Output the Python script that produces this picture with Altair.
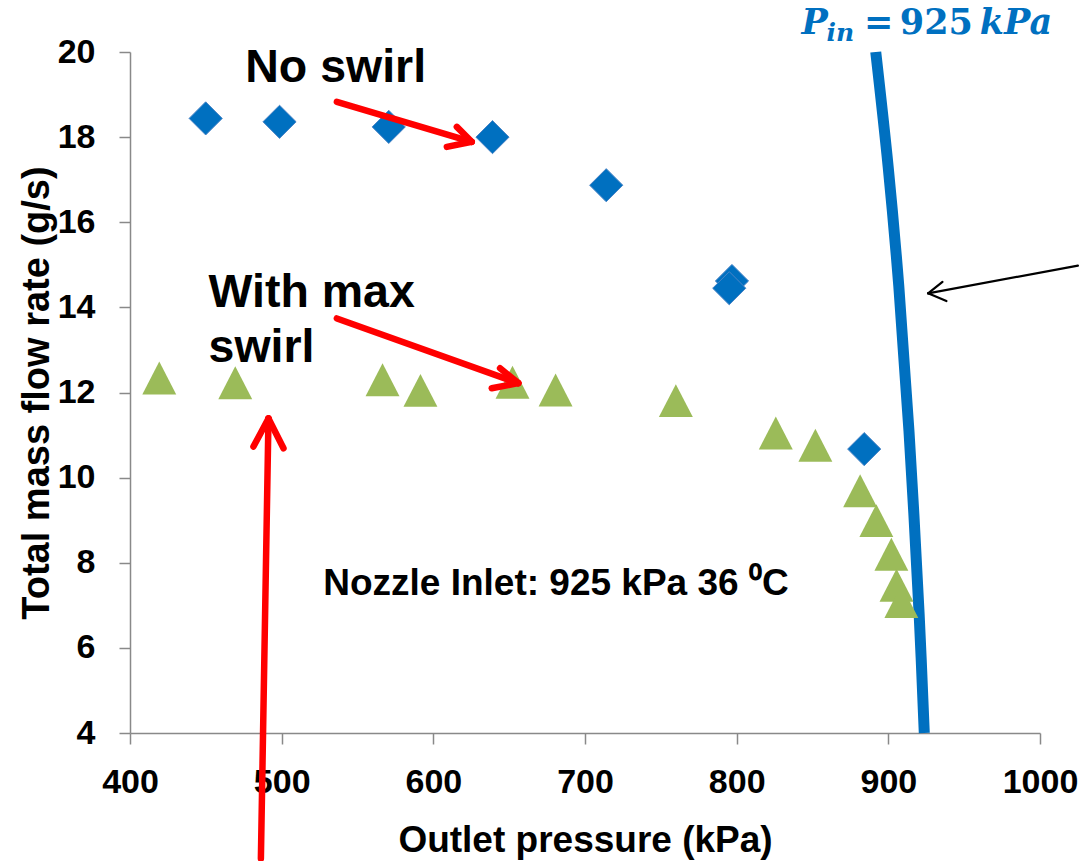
import altair as alt
import pandas as pd

# ---- data ----
no_swirl_p = [449.9, 498.6, 570.6, 639.0, 714.0, 796.9, 795.1, 884.1]
no_swirl_m = [18.44, 18.36, 18.24, 18.00, 16.87, 14.62, 14.45, 10.67]

max_swirl_p = [419.3, 469.4, 566.5, 591.5, 652.2, 680.6, 759.9, 825.8,
               851.9, 881.4, 892.1, 902.0, 905.4, 908.6]
max_swirl_m = [12.34, 12.23, 12.30, 12.05, 12.24, 12.06, 11.81, 11.05,
               10.76, 9.69, 8.99, 8.20, 7.47, 7.09]

pin_curve_p = [891.7, 899.9, 906.9, 913.6, 920.3, 923.7]
pin_curve_m = [20.0, 17.3, 14.5, 11.1, 6.8, 4.0]

x_ticks = [400, 500, 600, 700, 800, 900, 1000]
y_ticks = [4, 6, 8, 10, 12, 14, 16, 18, 20]

# arrow segments (data units): x, y -> x2, y2
red_seg_x = [536.4, 615.5, 608.9, 536.4, 644.0, 638.5, 486.3, 481.4, 501.2]
red_seg_y = [18.83, 18.24, 17.77, 13.74, 12.57, 12.10, 1.05, 10.73, 10.69]
red_seg_x2 = [625.3, 625.3, 625.3, 656.0, 656.0, 656.0, 491.3, 491.3, 491.3]
red_seg_y2 = [17.89, 17.89, 17.89, 12.22, 12.22, 12.22, 11.39, 11.39, 11.39]

blk_seg_x = [1025.0, 935.7, 938.3]
blk_seg_y = [14.98, 14.60, 14.15]
blk_seg_x2 = [926.2, 926.2, 926.2]
blk_seg_y2 = [14.33, 14.33, 14.33]

FONT = "Liberation Sans"
AXC = "#898989"
BLUE = "#0070C0"
GREEN = "#9BBB59"

xs = alt.Scale(domain=[400, 1000], nice=False, zero=False)
ys = alt.Scale(domain=[4, 20], nice=False, zero=False)

x_axis = alt.Axis(values=x_ticks, format="d", title="Outlet pressure (kPa)", grid=False,
                  domainColor=AXC, domainWidth=1.5, tickColor=AXC, tickWidth=1.5,
                  tickSize=11, labelFont=FONT, labelFontSize=34, labelFontWeight="bold",
                  labelColor="black", labelPadding=21, labelFlush=False, labelOverlap=False,
                  titleFont=FONT, titleFontSize=37, titleFontWeight="bold",
                  titleColor="black", titlePadding=23)
y_axis = alt.Axis(values=y_ticks, format="d", title="Total mass flow rate (g/s)", grid=False,
                  domainColor=AXC, domainWidth=1.5, tickColor=AXC, tickWidth=1.5,
                  tickSize=11, labelFont=FONT, labelFontSize=34, labelFontWeight="bold",
                  labelColor="black", labelPadding=24, labelOverlap=False,
                  titleFont=FONT, titleFontSize=38, titleFontWeight="bold",
                  titleColor="black", titlePadding=1)

curve_df = pd.DataFrame({"p": pin_curve_p, "m": pin_curve_m})
curve = alt.Chart(curve_df).mark_line(
    color=BLUE, strokeWidth=11, interpolate="catmull-rom", strokeCap="butt"
).encode(x=alt.X("p:Q", scale=xs, axis=x_axis), y=alt.Y("m:Q", scale=ys, axis=y_axis),
         order=alt.Order("m:Q", sort="descending"))

ns_df = pd.DataFrame({"p": no_swirl_p, "m": no_swirl_m})
diamonds = alt.Chart(ns_df).mark_point(
    shape="diamond", filled=True, size=1100, fill=BLUE, stroke="#4A84C6",
    strokeWidth=1, opacity=1
).encode(x=alt.X("p:Q", scale=xs), y=alt.Y("m:Q", scale=ys))

ms_df = pd.DataFrame({"p": max_swirl_p, "m": max_swirl_m})
triangles = alt.Chart(ms_df).mark_point(
    shape="M0,-0.97L1,0.97L-1,0.97Z", filled=True, size=1150, fill=GREEN,
    strokeWidth=0, opacity=1
).encode(x=alt.X("p:Q", scale=xs), y=alt.Y("m:Q", scale=ys))

red_df = pd.DataFrame({"x": red_seg_x, "y": red_seg_y, "x2": red_seg_x2, "y2": red_seg_y2})
red_arrows = alt.Chart(red_df).mark_rule(color="#FF0000", strokeWidth=6.5, strokeCap="round").encode(
    x=alt.X("x:Q", scale=xs), y=alt.Y("y:Q", scale=ys), x2="x2:Q", y2="y2:Q")

blk_df = pd.DataFrame({"x": blk_seg_x, "y": blk_seg_y, "x2": blk_seg_x2, "y2": blk_seg_y2})
blk_arrow = alt.Chart(blk_df).mark_rule(color="black", strokeWidth=2.2, strokeCap="round").encode(
    x=alt.X("x:Q", scale=xs), y=alt.Y("y:Q", scale=ys), x2="x2:Q", y2="y2:Q")


def label(txt, x, y, size, font=FONT, color="black", style="normal", weight="bold"):
    df = pd.DataFrame({"x": [x], "y": [y], "t": [txt]})
    return alt.Chart(df).mark_text(
        align="left", baseline="alphabetic", font=font, fontSize=size,
        fontWeight=weight, fontStyle=style, color=color
    ).encode(x=alt.X("x:Q", scale=xs), y=alt.Y("y:Q", scale=ys), text="t:N")


texts = [
    label("No swirl", 476.0, 19.30, 46.5),
    label("With max", 451.8, 14.01, 46.5),
    label("swirl", 451.8, 12.72, 46.5),
    label("Nozzle Inlet: 925 kPa 36 \u2070C", 527.4, 7.25, 37),
    label("P", 842.8, 20.43, 35, font="DejaVu Serif", color=BLUE, style="italic"),
    label("in", 859.2, 20.25, 25, font="DejaVu Serif", color=BLUE, style="italic"),
    label("=", 884.0, 20.43, 35, font="DejaVu Serif", color=BLUE),
    label("925", 907.6, 20.43, 35, font="DejaVu Serif", color=BLUE),
    label("kPa", 960.3, 20.43, 35, font="DejaVu Serif", color=BLUE, style="italic"),
]

chart = alt.layer(curve, diamonds, triangles, red_arrows, blk_arrow, *texts).properties(
    width=910, height=681,
    autosize=alt.AutoSizeParams(type="none"),
    padding={"left": 130, "top": 52, "right": 39, "bottom": 128},
    background="white",
).configure_view(stroke=None)

chart.save("out.html", embed_options={"renderer": "svg", "actions": False})
